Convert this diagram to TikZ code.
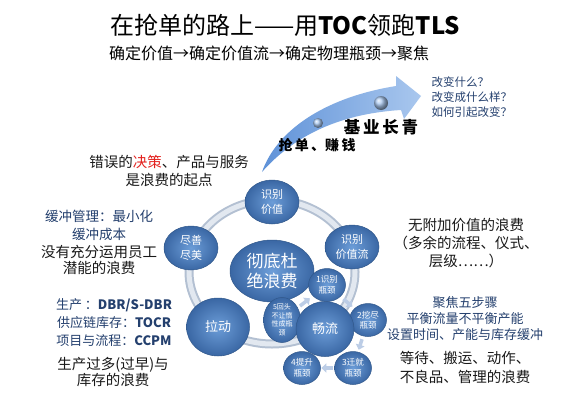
\documentclass[tikz,border=0pt]{standalone}
\usepackage{fontspec}
\setmainfont{Noto Sans CJK SC}
\usetikzlibrary{shapes.geometric, arrows.meta, calc}
\definecolor{bubblelight}{HTML}{6C9DD8}
\definecolor{bubbledark}{HTML}{3A67A4}
\definecolor{inkblue}{HTML}{24406E}
\definecolor{ringgray}{HTML}{B3C0D2}
\definecolor{ringlight}{HTML}{E2E8F0}
\definecolor{arrowlight}{HTML}{A9C7EE}
\definecolor{arrowdark}{HTML}{5F92D8}
\definecolor{flowgray}{HTML}{BCCDE6}
\definecolor{alarmred}{HTML}{E3211E}

\begin{document}
\begin{tikzpicture}[x=1pt, y=-1pt,
  bubble/.style={ellipse, inner sep=0pt, align=center, text=white,
    inner color=bubblelight, outer color=bubbledark, draw=bubbledark!85!black, line width=0.5pt},
  stagebubble/.style={bubble, minimum width=54pt, minimum height=44pt, font=\fontsize{11}{15}\selectfont},
  stepbubble/.style={bubble, minimum width=37pt, minimum height=33pt, font=\fontsize{8.5}{10.5}\selectfont},
  blocktext/.style={align=center, text=black!90, font=\fontsize{14.5}{18}\selectfont},
  bluetext/.style={align=center, text=inkblue, font=\fontsize{13.5}{18}\selectfont},
  flowstep/.style={-{Triangle[length=5pt,width=9pt]}, line width=3.5pt, flowgray}]
  \fill[white] (0,0) rectangle (569,404);
  \useasboundingbox (0,0) rectangle (569,404);

  \node (title) at (285,25) {\fontsize{24}{28}\selectfont 在抢单的路上——用\textbf{TOC}领跑\textbf{TLS}};
  \node (subtitle) at (269,53) {\fontsize{16}{20}\selectfont 确定价值→确定价值流→确定物理瓶颈→聚焦};

  \shade[left color=arrowdark, right color=arrowlight]
    (262,172) .. controls (276,132) and (322,98) .. (396,86) -- (396,76) -- (421,96)
    -- (404,119) -- (401,110) .. controls (336,114) and (292,138) .. (262,172) -- cycle;
  \shade[ball color=arrowlight] (318,123) circle (5pt);
  \shade[ball color=arrowlight] (381,103) circle (7pt);
  \node[font=\bfseries\fontsize{16.5}{20}\selectfont] (evergreen) at (381,127) {基\,业\,长\,青};
  \node[font=\bfseries\fontsize{14}{18}\selectfont] (orders) at (317,145) {抢\,单\,、赚\,钱};
  \node[anchor=west, align=left, text=inkblue, font=\fontsize{11.5}{15}\selectfont] (questions) at (428,97)
    {改变什么？\\改变成什么样？\\如何引起改变？};

  \node[blocktext] (rootcause) at (169,171) {错误的\textcolor{alarmred}{决策}、产品与服务\\是浪费的起点};
  \node[bluetext] (buffer) at (99,225) {缓冲管理：最小化\\缓冲成本};
  \node[blocktext, font=\fontsize{14.5}{16}\selectfont] (talent) at (99,260) {没有充分运用员工\\潜能的浪费};
  \node[bluetext, font=\fontsize{13}{18}\selectfont] (methods) at (114,323)
    {生产 ：\textbf{DBR/S-DBR}\\供应链库存：\textbf{TOCR}\\项目与流程：\textbf{CCPM}};
  \node[blocktext, font=\fontsize{14.5}{16}\selectfont] (overprod) at (113,372) {生产过多(过早)与\\库存的浪费};

  \node[blocktext] (novalue) at (466,243) {无附加价值的浪费\\（多余的流程、仪式、\\层级……）};
  \node[bluetext, font=\fontsize{13}{16}\selectfont] (focus) at (465,319)
    {聚焦五步骤\\平衡流量不平衡产能\\设置时间、产能与库存缓冲};
  \node[blocktext, font=\fontsize{14.5}{19}\selectfont] (waiting) at (465,367) {等待、搬运、动作、\\不良品、管理的浪费};

  \draw[ringgray, line width=9pt] (272,272) ellipse [x radius=83pt, y radius=72pt];
  \draw[ringlight, line width=5pt] (272,272) ellipse [x radius=83pt, y radius=72pt];

  \node[stagebubble] (value) at (272,202) {识别\\价值};
  \node[stagebubble] (stream) at (352,247) {识别\\价值流};
  \node[stagebubble] (perfect) at (191,248) {尽善\\尽美};
  \node[stagebubble, minimum width=63pt, minimum height=58pt, font=\fontsize{13}{16}\selectfont] (pull) at (218,327) {拉动};
  \node[bubble, minimum width=84pt, minimum height=62pt, font=\fontsize{17}{20}\selectfont] (waste) at (272,271) {彻底杜\\绝浪费};

  \node[stepbubble] (s1) at (327,285) {1识别\\瓶颈};
  \node[stepbubble] (s2) at (368,320) {2挖尽\\瓶颈};
  \node[stepbubble] (s3) at (353,368) {3迁就\\瓶颈};
  \node[stepbubble] (s4) at (302,368) {4提升\\瓶颈};
  \node[stepbubble, minimum height=38pt, font=\fontsize{7}{8.5}\selectfont] (s5) at (282,320) {5回头\\不让惰\\性成瓶\\颈};
  \node[stagebubble, minimum width=58pt, minimum height=55pt, font=\fontsize{13}{16}\selectfont] (flow) at (325,329) {畅流};

  \draw[flowstep] ($(s1)!0.40!(s2)$) -- ($(s1)!0.62!(s2)$);
  \draw[flowstep] ($(s2)!0.40!(s3)$) -- ($(s2)!0.62!(s3)$);
  \draw[flowstep] ($(s3)!0.40!(s4)$) -- ($(s3)!0.62!(s4)$);
  \draw[flowstep] ($(s5)!0.40!(s1)$) -- ($(s5)!0.62!(s1)$);
\end{tikzpicture}
\end{document}
